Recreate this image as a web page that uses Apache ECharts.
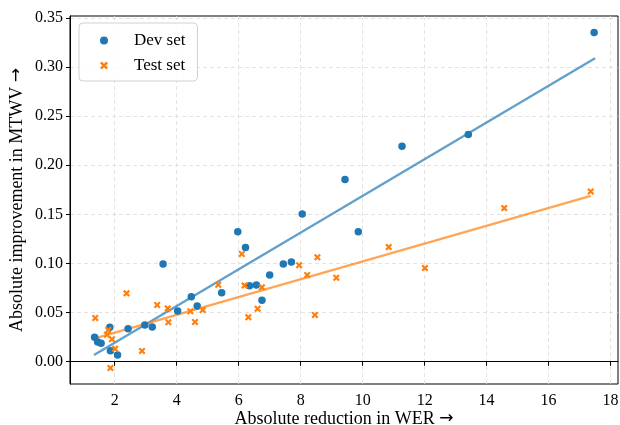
<!DOCTYPE html>
<html lang="en">
<head>
    <meta charset="UTF-8">
    <title>WER vs MTWV</title>
    <script src="https://cdn.jsdelivr.net/npm/echarts@6/dist/echarts.min.js"></script>
    <style>
        html, body { margin: 0; padding: 0; background: #fff; }
        #main { width: 620px; height: 425px; }
    </style>
</head>
<body>
<div id="main"></div>
<script>
    // 数据: [WER 绝对下降, MTWV 绝对提升]
    var devX = [1.35, 1.45, 1.56, 1.84, 1.86, 2.09, 2.43, 2.97, 3.21, 3.56, 4.03, 4.47, 4.66, 5.45,
        5.97, 6.22, 6.35, 6.57, 6.75, 7.00, 7.44, 7.70, 8.05, 9.43, 9.86, 11.27, 13.41, 17.47];
    var devY = [0.0248, 0.0200, 0.0187, 0.0350, 0.0112, 0.0068, 0.0336, 0.0373, 0.0353, 0.0994, 0.0516,
        0.0661, 0.0567, 0.0702, 0.1322, 0.1164, 0.0773, 0.0780, 0.0625, 0.0882, 0.0994, 0.1014, 0.1503,
        0.1856, 0.1322, 0.2194, 0.2313, 0.3351];
    var testX = [1.37, 1.79, 1.75, 1.91, 2.01, 1.86, 2.38, 2.88, 3.37, 3.71, 3.73, 4.44, 4.59, 4.84,
        5.34, 6.10, 6.19, 6.75, 6.31, 6.61, 7.95, 8.21, 8.54, 8.46, 9.15, 10.84, 12.01, 14.57, 17.36];
    var testY = [0.0445, 0.0322, 0.0275, 0.0228, 0.0132, -0.0064, 0.0696, 0.0109, 0.0577, 0.0543, 0.0401,
        0.0513, 0.0404, 0.0526, 0.0783, 0.1096, 0.0777, 0.0757, 0.0452, 0.0539, 0.0982, 0.0882, 0.1063,
        0.0475, 0.0854, 0.1167, 0.0953, 0.1564, 0.1733];
    // 拟合线端点
    var devFitX = [1.33, 17.50];
    var devFitY = [0.0068, 0.3090];
    var testFitX = [1.33, 17.36];
    var testFitY = [0.0234, 0.1689];
    // 刻度
    var xTicks = [2, 4, 6, 8, 10, 12, 14, 16, 18];
    var yTicks = [0, 0.05, 0.10, 0.15, 0.20, 0.25, 0.30, 0.35];

    function zip(a, b) {
        var res = [];
        for (var i = 0; i < a.length; i++) res.push([a[i], b[i]]);
        return res;
    }

    var FONT = 'Liberation Serif';
    var crossPath = 'path://M0,2.2 L2.2,0 L5,2.8 L7.8,0 L10,2.2 L7.2,5 L10,7.8 L7.8,10 L5,7.2 L2.2,10 L0,7.8 L2.8,5 Z';
    // 箭头用 DejaVu 字体, 大小更接近原图
    var arrowRich = { arr: { fontFamily: 'DejaVu Sans', fontSize: 17, color: '#000' } };

    var myChart = echarts.init(document.getElementById('main'));
    var option = {
        animation: false,
        grid: {
            left: 70, right: 2, top: 16, bottom: 41,
            outerBoundsMode: 'none', containLabel: false,
            show: true, borderColor: '#000', borderWidth: 1, backgroundColor: 'transparent'
        },
        legend: {
            orient: 'vertical',
            left: 79, top: 23,
            padding: [9, 12, 7, 21],
            itemWidth: 36, itemHeight: 8, itemGap: 8,
            backgroundColor: 'rgba(255,255,255,0.85)',
            borderColor: '#d0d0d0', borderWidth: 1, borderRadius: 4,
            textStyle: { fontFamily: FONT, fontSize: 17, color: '#000', lineHeight: 16, padding: [0, 0, 0, 7] },
            data: [
                { name: 'Dev set', icon: 'circle' },
                { name: 'Test set', icon: crossPath }
            ]
        },
        xAxis: {
            type: 'value',
            min: 0.556, max: 18.24,
            name: 'Absolute reduction in WER {arr|→}',
            nameLocation: 'middle', nameGap: 26, nameMoveOverlap: false,
            nameTextStyle: { fontFamily: FONT, fontSize: 18, color: '#000', rich: arrowRich },
            axisLine: { show: true, lineStyle: { color: '#000', width: 1 } },
            axisTick: { show: true, inside: false, length: 4, customValues: xTicks, lineStyle: { color: '#000' } },
            axisLabel: {
                customValues: xTicks, fontFamily: FONT, fontSize: 16, color: '#000', margin: 9,
                formatter: function (v) { return String(v); }
            },
            splitLine: { show: true, lineStyle: { color: '#dcdcdc', type: [4, 3], width: 0.8 } }
        },
        yAxis: {
            type: 'value',
            min: -0.0227, max: 0.352,
            name: 'Absolute improvement in MTWV {arr|→}',
            nameLocation: 'middle', nameGap: 44, nameRotate: 90, nameMoveOverlap: false,
            nameTextStyle: { fontFamily: FONT, fontSize: 18, color: '#000', rich: arrowRich },
            axisLine: { show: true, lineStyle: { color: '#000', width: 1 } },
            axisTick: { show: true, inside: false, length: 4, customValues: yTicks, lineStyle: { color: '#000' } },
            axisLabel: {
                customValues: yTicks, fontFamily: FONT, fontSize: 16, color: '#000', margin: 7,
                formatter: function (v) { return v.toFixed(2); }
            },
            splitLine: { show: true, lineStyle: { color: '#dcdcdc', type: [4, 3], width: 0.8 } }
        },
        series: [
            {
                name: 'Dev fit', type: 'line', data: zip(devFitX, devFitY),
                symbol: 'none', lineStyle: { color: '#1f77b4', width: 2.3, opacity: 0.7 }, z: 2
            },
            {
                name: 'Test fit', type: 'line', data: zip(testFitX, testFitY),
                symbol: 'none', lineStyle: { color: '#ff7f0e', width: 2.3, opacity: 0.7 }, z: 2
            },
            {
                name: 'Dev set', type: 'scatter', data: zip(devX, devY),
                symbol: 'circle', symbolSize: 7.5,
                itemStyle: { color: '#1f77b4', opacity: 1 }, z: 3
            },
            {
                name: 'Test set', type: 'scatter', data: zip(testX, testY),
                symbol: crossPath, symbolSize: 7,
                itemStyle: { color: '#ff7f0e', opacity: 1 }, z: 4
            }
        ]
    };
    myChart.setOption(option);
</script>
</body>
</html>
